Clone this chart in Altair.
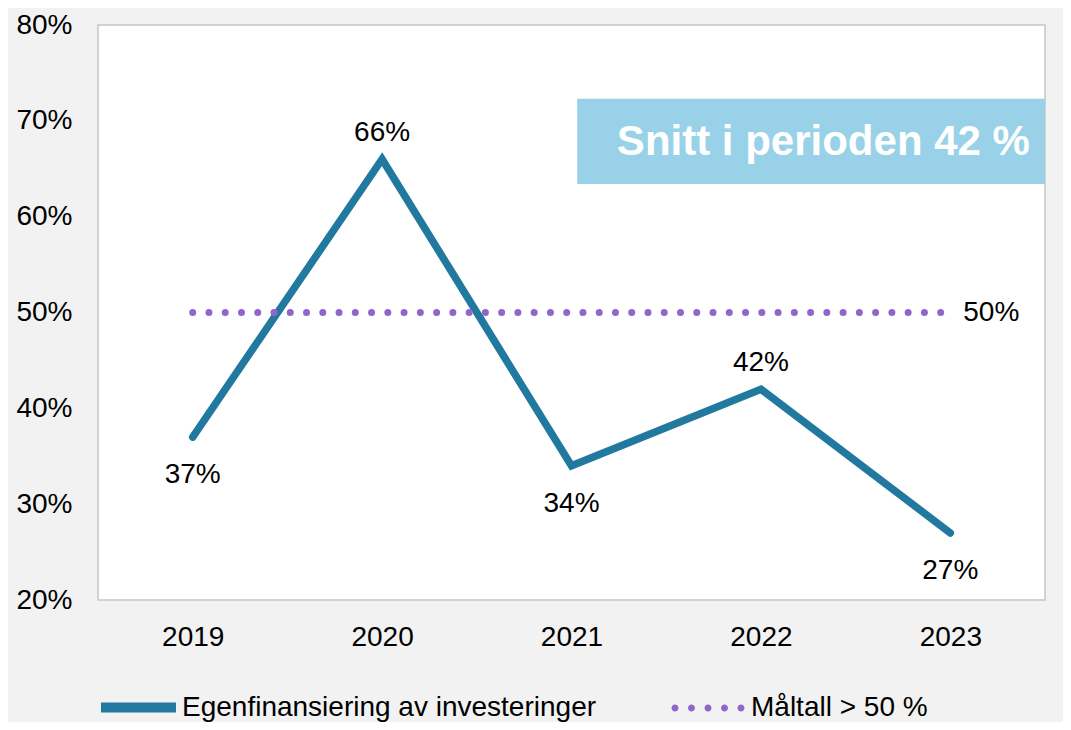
import altair as alt
import pandas as pd

# ---- data ----
years = [2019, 2020, 2021, 2022, 2023]
egenfinansiering = [0.37, 0.66, 0.34, 0.42, 0.27]
label_side = ["below", "above", "below", "above", "below"]
target_years = [2019, 2023]
target_values = [0.50, 0.50]
series_main = "Egenfinansiering av investeringer"
series_target = "Måltall > 50 %"
y_ticks = [0.2, 0.3, 0.4, 0.5, 0.6, 0.7, 0.8]
box_text = "Snitt i perioden 42 %"

# annotation box (data units)
box_x = [2021.03]
box_x2 = [2023.5]
box_y = [0.634]
box_y2 = [0.723]
box_text_x = [2022.33]
box_text_y = [0.678]

# ---- style ----
FONT = "Liberation Sans"
TEAL = "#22799f"
PURPLE = "#9166cc"
BOX = "#99d2e8"

main_df = pd.DataFrame({"year": years, "value": egenfinansiering,
                        "side": label_side, "series": series_main})
target_df = pd.DataFrame({"year": target_years, "value": target_values,
                          "series": series_target})
box_df = pd.DataFrame({"x": box_x, "x2": box_x2, "y": box_y, "y2": box_y2})
box_text_df = pd.DataFrame({"x": box_text_x, "y": box_text_y, "t": [box_text]})

xs = alt.Scale(domain=[2018.5, 2023.5], nice=False, zero=False)
ys = alt.Scale(domain=[0.2, 0.8], nice=False, zero=False)
xaxis = alt.Axis(values=years, format="d", grid=False, ticks=False, domain=False,
                 labelFontSize=28, labelFont=FONT, labelColor="black",
                 labelPadding=23, title=None)
yaxis = alt.Axis(values=y_ticks, format=".0%", grid=False, ticks=False, domain=False,
                 labelFontSize=28, labelFont=FONT, labelColor="black",
                 labelPadding=26, title=None)


def X(f):
    return alt.X(f"{f}:Q", scale=xs, axis=xaxis, title=None)


def Y(f):
    return alt.Y(f"{f}:Q", scale=ys, axis=yaxis, title=None)


# legend symbol for dotted series: five round dots
r = 0.0972
dots = [-0.9167, -0.4583, 0.0, 0.4583, 0.9167]
dot_path = "".join(
    f"M{c - r:.4f},0A{r:.4f},{r:.4f} 0 1 0 {c + r:.4f},0A{r:.4f},{r:.4f} 0 1 0 {c - r:.4f},0Z"
    for c in dots
)

box = alt.Chart(box_df).mark_rect(color=BOX).encode(
    x=X("x"), x2="x2", y=Y("y"), y2="y2"
)
box_label = alt.Chart(box_text_df).mark_text(
    font=FONT, fontSize=42, fontWeight="bold", color="white",
    align="center", baseline="middle"
).encode(x=X("x"), y=Y("y"), text="t:N")

line = alt.Chart(main_df).mark_line(
    strokeWidth=7.5, strokeCap="round", strokeJoin="miter"
).encode(
    x=X("year"), y=Y("value"),
    color=alt.Color("series:N",
                    scale=alt.Scale(domain=[series_main], range=[TEAL]),
                    legend=alt.Legend(orient="none", legendX=-2, legendY=640,
                                      title=None, symbolType="stroke",
                                      symbolSize=5625, symbolStrokeWidth=10,
                                      labelFont=FONT, labelFontSize=28,
                                      labelColor="black", labelOffset=1,
                                      padding=0, labelLimit=600))
)

target = alt.Chart(target_df).mark_line(
    strokeWidth=7, strokeCap="round", strokeDash=[0.01, 16.25], color=PURPLE
).encode(
    x=X("year"), y=Y("value"),
    opacity=alt.Opacity("series:O",
                        scale=alt.Scale(domain=[series_target], range=[1]),
                        legend=alt.Legend(orient="none", legendX=574, legendY=647,
                                          title=None, symbolType=dot_path,
                                          symbolSize=5184, symbolFillColor=PURPLE,
                                          symbolStrokeColor="transparent",
                                          symbolStrokeWidth=0,
                                          labelFont=FONT, labelFontSize=28,
                                          labelColor="black", labelOffset=7,
                                          padding=0, labelLimit=600))
)

target_label = alt.Chart(target_df).transform_filter(
    alt.datum.year == max(target_years)
).mark_text(font=FONT, fontSize=28, color="black", align="left",
            baseline="middle", dx=13).encode(
    x=X("year"), y=Y("value"), text=alt.Text("value:Q", format=".0%")
)

labels_above = alt.Chart(main_df).transform_filter(
    alt.datum.side == "above"
).mark_text(font=FONT, fontSize=28, color="black", align="center",
            baseline="middle", dy=-26).encode(
    x=X("year"), y=Y("value"), text=alt.Text("value:Q", format=".0%")
)
labels_below = alt.Chart(main_df).transform_filter(
    alt.datum.side == "below"
).mark_text(font=FONT, fontSize=28, color="black", align="center",
            baseline="middle", dy=38).encode(
    x=X("year"), y=Y("value"), text=alt.Text("value:Q", format=".0%")
)

chart = alt.layer(
    line, target, target_label, labels_above, labels_below, box, box_label
).resolve_legend(color="independent", opacity="independent").properties(
    width=947, height=575,
    autosize=alt.AutoSizeParams(type="none"),
    padding={"left": 90, "top": 17, "right": 18, "bottom": 122},
    background="#f2f2f2",
).configure_view(fill="white", stroke="#c6c6c6", strokeWidth=1.5)

chart.save("out.html", embed_options={"renderer": "svg", "actions": False})
